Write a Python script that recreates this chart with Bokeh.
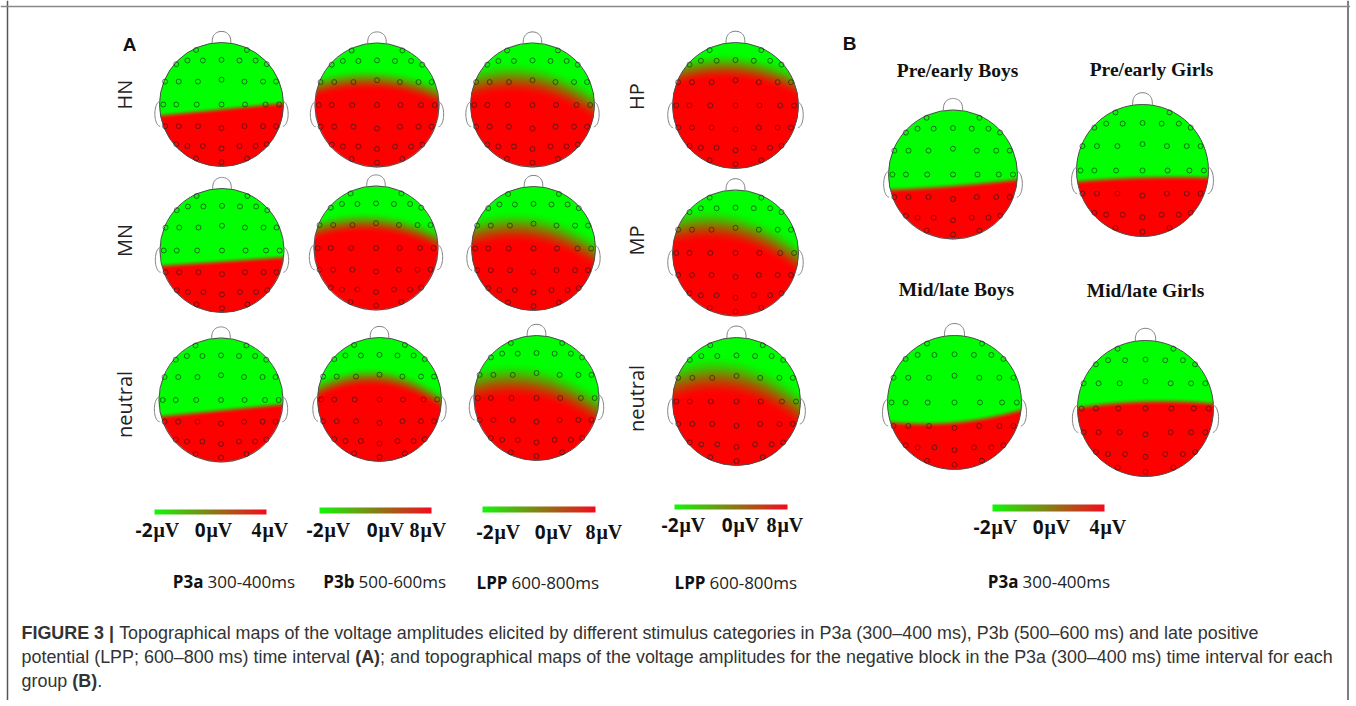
import numpy as np
from bokeh.plotting import figure
from bokeh.models import Range1d, Span
from bokeh.core.properties import value
from bokeh.embed import file_html
from bokeh.resources import INLINE

# ------------------------------------------------------------------ data
ROW_LABELS_LEFT = ["HN", "MN", "neutral"]
ROW_LABELS_RIGHT = ["HP", "MP", "neutral"]
A_COMPONENTS = ["P3a", "P3b", "LPP", "LPP"]
A_WINDOWS = ["300-400ms", "500-600ms", "600-800ms", "600-800ms"]
A_SCALE_LABELS = [["-2", "0", "4"], ["-2", "0", "8"], ["-2", "0", "8"], ["-2", "0", "8"]]

# position of the green/red (0 µV) transition of each map, in head radii (+ = posterior)
A_LEVEL = [[0.08, -0.41, -0.41, -0.62],
           [0.18, -0.41, -0.33, -0.40],
           [0.17, -0.36, -0.25, -0.38]]
A_TILT = [[-0.10, 0.06, 0.17, 0.08],
          [-0.07, 0.08, 0.16, 0.23],
          [-0.10, 0.09, 0.20, 0.20]]
A_BEND = [[0.00, 0.18, 0.25, 0.21],
          [0.00, 0.20, 0.25, 0.26],
          [0.00, 0.30, 0.25, 0.30]]
A_SPREAD = [[0.12, 0.38, 0.55, 0.45],
            [0.12, 0.37, 0.55, 0.56],
            [0.12, 0.34, 0.60, 0.65]]

B_GROUPS = ["Pre/early Boys", "Pre/early Girls", "Mid/late Boys", "Mid/late Girls"]
B_LEVEL = [0.18, 0.11, 0.30, -0.10]
B_TILT = [-0.08, -0.03, -0.09, -0.03]
B_BEND = [-0.02, 0.03, -0.10, 0.06]
B_SPREAD = [0.12, 0.12, 0.12, 0.12]
B_COMPONENT = "P3a"
B_WINDOW = "300-400ms"
B_SCALE_LABELS = ["-2", "0", "4"]
UNIT = "μV"

ELECTRODE_X = [-0.41, 0.41,
               -0.73, -0.55, -0.30, 0.0, 0.29, 0.55, 0.73,
               -0.91, -0.69, -0.38, 0.0, 0.37, 0.67, 0.88,
               -0.94, -0.73, -0.40, 0.0, 0.38, 0.71, 0.93,
               -0.91, -0.69, -0.38, 0.0, 0.37, 0.67, 0.88,
               -0.73, -0.55, -0.30, 0.0, 0.29, 0.55, 0.73,
               -0.41, 0.41, 0.0]
ELECTRODE_Y = [-0.88, -0.88,
               -0.65, -0.71, -0.71, -0.72, -0.71, -0.71, -0.65,
               -0.37, -0.37, -0.37, -0.40, -0.37, -0.37, -0.37,
               0.0, 0.0, 0.0, 0.0, 0.0, 0.0, 0.0,
               0.35, 0.35, 0.35, 0.38, 0.35, 0.35, 0.35,
               0.64, 0.67, 0.67, 0.71, 0.67, 0.67, 0.64,
               0.87, 0.87, 0.93]

CAPTION = [
    [("FIGURE 3 |", True),
     (" Topographical maps of the voltage amplitudes elicited by different stimulus categories in P3a (300–400 ms), P3b (500–600 ms) and late positive", False)],
    [("potential (LPP; 600–800 ms) time interval ", False), ("(A)", True),
     ("; and topographical maps of the voltage amplitudes for the negative block in the P3a (300–400 ms) time interval for each", False)],
    [("group ", False), ("(B)", True), (".", False)],
]

# ------------------------------------------------------------------ layout (screen px)
A_CX = [[222, 377.5, 533, 736], [222.5, 376.5, 534, 736], [221.5, 380, 537, 737]]
A_CY = [[105, 105.5, 105.5, 106], [251, 248.5, 249, 253.5], [400.5, 400, 398.5, 402]]
A_R = [[62, 62, 62, 63], [62, 62, 62, 63], [62, 62, 62.5, 64]]
B_CX = [953.5, 1143, 955, 1146]
B_CY = [175, 171, 403, 409]
B_R = [64.5, 66, 67, 68]
B_TITLE_X = [958, 1152, 957, 1146]
B_TITLE_Y = [71, 70, 290, 291]

W, H = 1350, 700
OFF = 1  # screen position of the canvas' top-left corner
p = figure(width=W, height=H, x_range=Range1d(OFF, OFF + W), y_range=Range1d(-(OFF + H), -OFF),
           output_backend="svg", toolbar_location=None, min_border=0)
p.axis.visible = False
p.grid.visible = False
p.outline_line_color = None
p.background_fill_color = "white"
p.border_fill_color = "white"


def Y(sy):
    return -sy


def smoothstep(v):
    v = np.clip(v, 0.0, 1.0)
    return v * v * (3 - 2 * v)


def head_image(cx, cy, r, level, tilt, bend, spread):
    n = int(np.ceil(2 * (r + 1.5)))
    x0 = cx - n / 2.0
    ybot = cy + n / 2.0
    sx = x0 + np.arange(n) + 0.5
    sy = ybot - (np.arange(n) + 0.5)
    NX, NY = np.meshgrid((sx - cx) / r, (sy - cy) / r)
    boundary = level + tilt * NX + bend * NX ** 2
    t = smoothstep((NY - boundary) / spread + 0.5)
    d = np.sqrt(NX ** 2 + NY ** 2) * r
    a = np.clip(r - d + 0.5, 0, 1)
    rgba = np.zeros((n, n, 4), dtype=np.uint8)
    rgba[..., 0] = np.round(255 * t)
    rgba[..., 1] = np.round(255 * (1 - t))
    rgba[..., 2] = 0
    rgba[..., 3] = np.round(255 * a)
    return rgba.view(np.uint32).reshape(n, n), x0, Y(ybot), n


heads = []  # (cx, cy, r, level, tilt, bend, spread)
for i in range(3):
    for j in range(4):
        heads.append((A_CX[i][j], A_CY[i][j], A_R[i][j], A_LEVEL[i][j], A_TILT[i][j],
                      A_BEND[i][j], A_SPREAD[i][j]))
for k in range(4):
    heads.append((B_CX[k], B_CY[k], B_R[k], B_LEVEL[k], B_TILT[k], B_BEND[k], B_SPREAD[k]))

ex, ey, axs, ays = [], [], [], []
for (cx, cy, r, lv, tl, bd, sp) in heads:
    img, x0, y0, n = head_image(cx, cy, r, lv, tl, bd, sp)
    p.image_rgba(image=[img], x=x0, y=y0, dw=n, dh=n)
    # nose
    th = np.linspace(0, np.pi, 30)
    axs.append(list(cx + 0.15 * r * np.cos(th)))
    ays.append(list(Y(cy - 0.989 * r - 0.19 * r * np.sin(th) ** 0.7)))
    # ears
    th = np.linspace(np.pi / 2, 3 * np.pi / 2, 30)
    for side in (-1, 1):
        axs.append(list(cx + side * (0.99 * r - 0.085 * r * np.cos(th))))
        ays.append(list(Y(cy + 0.15 * r + 0.2 * r * np.sin(th))))
    ex += [cx + r * v for v in ELECTRODE_X]
    ey += [Y(cy + r * v) for v in ELECTRODE_Y]

p.circle(x=[h[0] for h in heads], y=[Y(h[1]) for h in heads], radius=[h[2] for h in heads],
         fill_color=None, line_color="#4d4d4d", line_width=1)
p.multi_line(xs=axs, ys=ays, line_color="#808080", line_width=1)
p.scatter(x=ex, y=ey, size=5, marker="circle", fill_color=None, line_color="#1a1a1a",
          line_alpha=0.75, line_width=0.8)


def txt(x, sy, s, font="Open Sans", size="17px", style="normal", align="center",
        baseline="middle", angle=0.0, color="#222222"):
    p.text(x=[x], y=[Y(sy)], text=[s], text_font=value(font), text_font_size=size,
           text_font_style=style, text_align=align, text_baseline=baseline, angle=angle,
           text_color=color)


# panel letters
txt(130, 45, "A", font="Liberation Sans", size="19px", style="bold", color="#111111")
txt(850, 44, "B", font="Liberation Sans", size="19px", style="bold", color="#111111")

# row labels
for lab, sy in zip(ROW_LABELS_LEFT, [95, 241, 405]):
    txt(125, sy, lab, size="20px", angle=np.pi / 2)
for lab, sy in zip(ROW_LABELS_RIGHT, [97, 241, 399]):
    txt(637, sy, lab, size="20px", angle=np.pi / 2)

# group titles
for g, x, sy in zip(B_GROUPS, B_TITLE_X, B_TITLE_Y):
    txt(x, sy, g, font="Liberation Serif", size="19.5px", style="bold", color="#111111")

# colour bars
BARS = [(155, 267, 510, 515), (320, 432, 508, 514), (483, 596, 507, 513), (675, 788, 505, 510),
        (993, 1105, 505, 512)]
BAR_JOINS = [[153, 206, 262], [324, 378, 420], [494, 546, 596], [679, 733, 777], [991, 1044, 1100]]
BAR_LABEL_Y = [530, 530, 532, 525, 527]
bar_labels = A_SCALE_LABELS + [B_SCALE_LABELS]
for (x1, x2, y1, y2), joins, ly, labs in zip(BARS, BAR_JOINS, BAR_LABEL_Y, bar_labels):
    n = int(round(x2 - x1))
    t = np.linspace(0, 1, n)
    rgba = np.zeros((1, n, 4), dtype=np.uint8)
    rgba[..., 0] = np.round(20 + 225 * t)
    rgba[..., 1] = np.round(245 * (1 - t) + 10 * t)
    rgba[..., 2] = np.round(10 + 20 * t)
    rgba[..., 3] = 255
    p.image_rgba(image=[rgba.view(np.uint32).reshape(1, n)], x=x1, y=Y(y2), dw=x2 - x1, dh=y2 - y1)
    for k, (lab, jx) in enumerate(zip(labs, joins)):
        if k < 2:
            txt(jx, ly, lab, font="Open Sans", size="19px", style="bold", align="right", color="#111111")
        else:
            txt(jx, ly, lab, font="Liberation Serif", size="20px", style="bold", align="right", color="#111111")
        txt(jx + 1, ly, UNIT, font="Liberation Serif", size="20px", style="bold", align="left", color="#111111")

# time-window labels
TIME_JOINS = [204, 355, 508, 706, 1019]
TIME_Y = [582, 582, 583, 583, 582]
comps = A_COMPONENTS + [B_COMPONENT]
wins = A_WINDOWS + [B_WINDOW]
for c, w, jx, sy in zip(comps, wins, TIME_JOINS, TIME_Y):
    txt(jx, sy, c, size="17px", style="bold", align="right", color="#111111")
    txt(jx + 4, sy, w, size="17px", align="left", color="#222222")

# frame
for loc, dim in [(8, "height"), (1348.5, "height")]:
    p.add_layout(Span(location=loc, dimension=dim, line_color="#555555", line_width=1.5))
p.add_layout(Span(location=-7, dimension="width", line_color="#888888", line_width=1.5))

# caption (Arial / Liberation Sans advance widths, per 1000 em)
REG = {}
for chs, wdt in [("abdeghnopqu0123456789–_$#?L", 556), ("ckvxyzsJ", 500), ("ft[]/:;.,! I", 278),
                 ("ijl", 222), ("mM", 833), ("r-()`", 333), ("wCDHNRU", 722), ("ABEKPSVXY", 667),
                 ("FTZ", 611), ("GOQ", 778), ("W", 944), ("|", 260)]:
    for ch in chs:
        REG[ch] = wdt
BOLD = {"F": 611, "I": 278, "G": 778, "U": 722, "R": 722, "E": 667, " ": 278, "3": 556,
        "|": 280, "(": 333, ")": 333, "A": 722, "B": 722, ".": 278}


def units(s, bold):
    tab = BOLD if bold else REG
    return sum(tab.get(ch, 556) for ch in s)


line2_units = sum(units(s, b) for s, b in CAPTION[1])
fs = 1312.0 * 1000.0 / line2_units
CAP_Y = [633, 657, 681]
for line, sy in zip(CAPTION, CAP_Y):
    x = 22.0
    for s, b in line:
        lead = 0.0
        st = s
        if st.startswith(" "):
            lead = units(" ", b) * fs / 1000.0
            st = st.lstrip(" ")
        txt(x + lead, sy, st, font="Liberation Sans", size="%.2fpx" % fs,
            style="bold" if b else "normal", align="left", color="#333333")
        x += units(s, b) * fs / 1000.0

open("out.html", "w").write(file_html(p, INLINE))
